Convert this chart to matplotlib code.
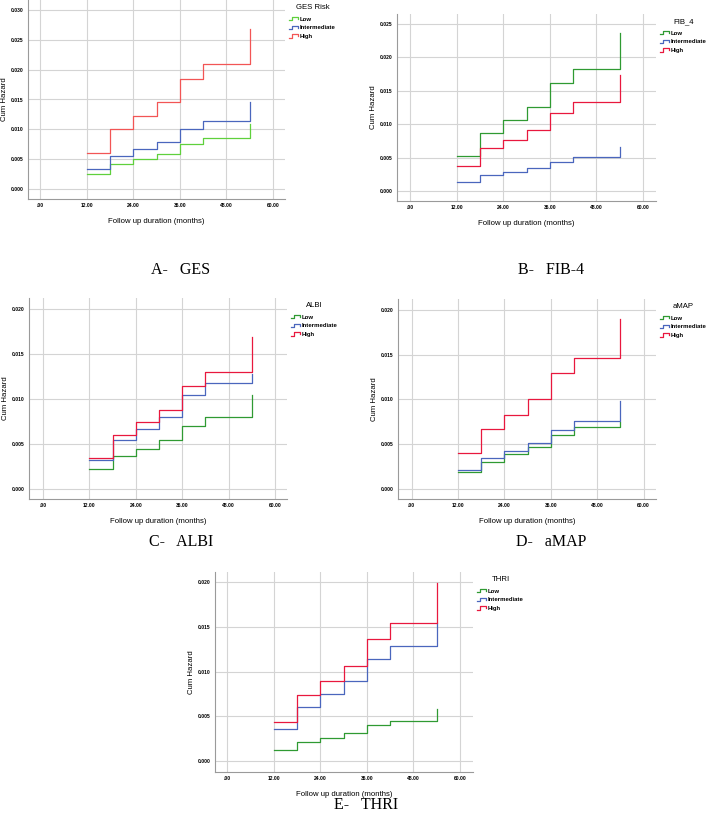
import numpy as np
import matplotlib
matplotlib.use("Agg")
import matplotlib.pyplot as plt
from matplotlib.lines import Line2D
from matplotlib.legend_handler import HandlerBase

# -------------------------
# data
# -------------------------
times = [12, 18, 24, 30, 36, 42, 54]
groups = ["Low", "Intermediate", "High"]

ges_low = [0.0025, 0.0041, 0.0050, 0.0059, 0.0075, 0.0085, 0.0109]
ges_mid = [0.0033, 0.0055, 0.0067, 0.0079, 0.0100, 0.0114, 0.0146]
ges_high = [0.0060, 0.0100, 0.0123, 0.0145, 0.0185, 0.0209, 0.0269]

fib_low = [0.0052, 0.0087, 0.0106, 0.0126, 0.0161, 0.0182, 0.0237]
fib_mid = [0.0014, 0.0024, 0.0029, 0.0035, 0.0044, 0.0051, 0.0066]
fib_high = [0.0038, 0.0064, 0.0077, 0.0092, 0.0117, 0.0133, 0.0174]

albi_low = [0.0022, 0.0037, 0.0045, 0.0054, 0.0070, 0.0080, 0.0104]
albi_mid = [0.0032, 0.0054, 0.0067, 0.0080, 0.0104, 0.0118, 0.0128]
albi_high = [0.0035, 0.0060, 0.0074, 0.0088, 0.0114, 0.0130, 0.0169]

amap_low = [0.0019, 0.0030, 0.0039, 0.0047, 0.0060, 0.0069, 0.0075]
amap_mid = [0.0021, 0.0035, 0.0043, 0.0051, 0.0066, 0.0076, 0.0098]
amap_high = [0.0040, 0.0067, 0.0083, 0.0100, 0.0129, 0.0146, 0.0190]

thri_low = [0.0013, 0.0022, 0.0026, 0.0031, 0.0040, 0.0045, 0.0058]
thri_mid = [0.0036, 0.0061, 0.0075, 0.0089, 0.0114, 0.0129, 0.0154]
thri_high = [0.0044, 0.0074, 0.0089, 0.0106, 0.0136, 0.0154, 0.0199]

x_ticks = [0, 12, 24, 36, 48, 60]
x_ticklabels = [".00", "12.00", "24.00", "36.00", "48.00", "60.00"]

W, H = 708, 819


class StepHandler(HandlerBase):
    """little step glyph like the SPSS legend"""
    def create_artists(self, legend, orig_handle, xdescent, ydescent,
                       width, height, fontsize, trans):
        xs = np.array([0, 0.35, 0.35, 1, 1]) * width - xdescent
        ys = np.array([0.05, 0.05, 0.95, 0.95, 0.35]) * height - ydescent
        ln = Line2D(xs, ys, color=orig_handle.get_color(),
                    lw=orig_handle.get_linewidth(), transform=trans)
        return [ln]


def px_axes(fig, l, t, r, b):
    return fig.add_axes([l / W, 1 - b / H, (r - l) / W, (b - t) / H])


def panel(fig, box, xlim, ylim, yticks, series, colors, title):
    ax = px_axes(fig, *box)
    for vals, c, name in zip(series, colors, groups):
        ax.step(times, vals, where="post", color=c, lw=0.9, label=name)
    ax.set_xlim(*xlim)
    ax.set_ylim(*ylim)
    ax.set_xticks(x_ticks)
    ax.set_xticklabels(x_ticklabels)
    ax.set_yticks(yticks)
    ax.set_yticklabels([f"{v:.3f}" for v in yticks])
    ax.grid(True, color="#d4d4d4", lw=0.8)
    ax.set_axisbelow(True)
    for s in ["top", "right"]:
        ax.spines[s].set_visible(False)
    for s in ["left", "bottom"]:
        ax.spines[s].set_color("#9a9a9a")
        ax.spines[s].set_linewidth(0.8)
    ax.tick_params(length=0, labelsize=3.6, pad=3)
    for lab in ax.get_xticklabels() + ax.get_yticklabels():
        lab.set_fontweight("bold")
    hgt = box[3] - box[1]
    wid = box[2] - box[0]
    ax.set_xlabel("Follow up duration (months)", fontsize=5.6)
    ax.xaxis.set_label_coords(0.5, -19 / hgt)
    ax.set_ylabel("Cum Hazard", fontsize=5.6)
    ax.yaxis.set_label_coords(-20 / wid, 0.5)
    leg = ax.legend(loc="upper left", bbox_to_anchor=(1.0, 1.0), frameon=False,
                    title=title, title_fontsize=5.6,
                    prop={"size": 4.3, "weight": "bold"},
                    handler_map={Line2D: StepHandler()},
                    handlelength=1.5, handleheight=0.6, handletextpad=0.3,
                    labelspacing=0.6, borderaxespad=0.5, borderpad=0.2)
    leg._legend_box.sep = 4
    return ax


plt.rcParams["font.family"] = ["Liberation Sans", "DejaVu Sans"]
fig = plt.figure(figsize=(W / 100, H / 100), dpi=100)

green = "#2f9a32"
blue = "#4a66bd"
red = "#e8183e"

panel(fig, (28, 0, 285, 199), (-3.1, 63.1), (-0.0017, 0.0317),
      [0, 0.005, 0.010, 0.015, 0.020, 0.025, 0.030],
      [ges_low, ges_mid, ges_high], ["#5fd03c", blue, "#f25555"], "GES Risk")
panel(fig, (397, 14, 656, 201), (-3.35, 63.35), (-0.0015, 0.0265),
      [0, 0.005, 0.010, 0.015, 0.020, 0.025],
      [fib_low, fib_mid, fib_high], [green, blue, red], "FIB_4")
panel(fig, (29, 298, 287, 499), (-3.6, 63.1), (-0.0011, 0.0212),
      [0, 0.005, 0.010, 0.015, 0.020],
      [albi_low, albi_mid, albi_high], [green, blue, red], "ALBI")
panel(fig, (398, 299, 656, 499), (-3.5, 63.2), (-0.0011, 0.0212),
      [0, 0.005, 0.010, 0.015, 0.020],
      [amap_low, amap_mid, amap_high], [green, blue, red], "aMAP")
panel(fig, (215, 572, 473, 772), (-3.1, 63.35), (-0.0012, 0.0211),
      [0, 0.005, 0.010, 0.015, 0.020],
      [thri_low, thri_mid, thri_high], [green, blue, red], "THRI")

# panel captions (baseline positions in pixels)
captions = [("A-   GES", 181, 274), ("B-   FIB-4", 551, 274),
            ("C-   ALBI", 181, 546), ("D-   aMAP", 551, 546),
            ("E-   THRI", 366, 809)]
for txt, cx, cy in captions:
    fig.text(cx / W, 1 - cy / H, txt, ha="center", va="baseline",
             fontsize=11.5, family=["Liberation Serif", "DejaVu Serif"])

fig.savefig("out.png", dpi=100)
